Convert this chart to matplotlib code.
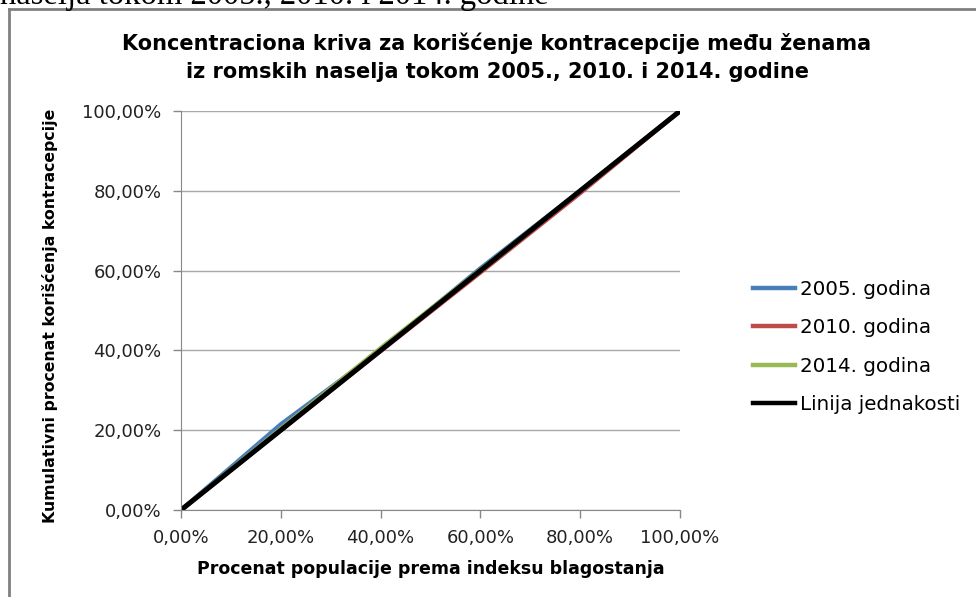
import matplotlib.pyplot as plt
from matplotlib.ticker import FuncFormatter
from matplotlib.lines import Line2D

# procenat populacije (kvintili indeksa blagostanja)
x_pop = [0, 20, 40, 60, 80, 100]
god_2005 = [0, 21.5, 40.0, 60.6, 80.0, 100]
god_2010 = [0, 20.0, 39.8, 59.5, 79.4, 100]
god_2014 = [0, 20.4, 40.6, 60.2, 80.0, 100]
jednakost = [0, 20, 40, 60, 80, 100]

labels = ["2005. godina", "2010. godina", "2014. godina", "Linija jednakosti"]
colors = ["#4a7ebb", "#be4b48", "#98b954", "#000000"]

plt.rcParams['font.family'] = ["DejaVu Sans"]

fig = plt.figure(figsize=(9.76, 5.97), dpi=100)
ax = fig.add_axes([181/976, 1-510/597, (680-181)/976, (510-111)/597])

ax.plot(x_pop, god_2005, color=colors[0], lw=3)
ax.plot(x_pop, god_2010, color=colors[1], lw=3)
ax.plot(x_pop, god_2014, color=colors[2], lw=3)
ax.plot(x_pop, jednakost, color=colors[3], lw=3.6)

ax.set_xlim(0, 100)
ax.set_ylim(0, 100)
ax.set_xticks(range(0, 101, 20))
ax.set_yticks(range(0, 101, 20))
fmt = FuncFormatter(lambda v, p: ("%.2f%%" % v).replace(".", ","))
ax.xaxis.set_major_formatter(fmt)
ax.yaxis.set_major_formatter(fmt)
ax.tick_params(labelsize=13, colors="#888888", labelcolor="#222222", length=6, width=1)
ax.tick_params(axis="x", pad=8)
ax.tick_params(axis="y", pad=8)
ax.grid(axis="y", color="#a8a8a8", lw=1)
for s in ["top", "right"]:
    ax.spines[s].set_visible(False)
for s in ["left", "bottom"]:
    ax.spines[s].set_color("#888888")

ax.set_xlabel("Procenat populacije prema indeksu blagostanja", fontsize=12.5,
              fontweight="bold", labelpad=9)
fig.text(50/976, 1-316/597, "Kumulativni procenat korišćenja kontracepcije",
         rotation=90, ha="center", va="center", fontsize=11.3, fontweight="bold")

fig.text(497/976, 1-43/597, "Koncentraciona kriva za korišćenje kontracepcije među ženama",
         ha="center", va="center", fontsize=15, fontweight="bold")
fig.text(497/976, 1-72/597, "iz romskih naselja tokom 2005., 2010. i 2014. godine",
         ha="center", va="center", fontsize=15, fontweight="bold")

# odsečen tekst iznad grafika
fig.text(0, 1-4/597, "naselja tokom 2005., 2010. i 2014. godine",
         ha="left", va="baseline", fontsize=23.5, family=["Liberation Serif"])

# okvir grafika
fig.add_artist(Line2D([9/976, 1], [1-9/597, 1-9/597], color="#808080", lw=2))
fig.add_artist(Line2D([9/976, 9/976], [0, 1-9/597], color="#808080", lw=2))

handles = [Line2D([], [], color=c, lw=3.2) for c in colors]
fig.legend(handles, labels, loc="center left", bbox_to_anchor=(753/976, 1-347/597),
           frameon=False, handlelength=2.1, handletextpad=0.25, borderpad=0,
           borderaxespad=0, labelspacing=0.98,
           prop={"family": ["DejaVu Sans"], "size": 14.3})

fig.savefig("out.png", dpi=100)
